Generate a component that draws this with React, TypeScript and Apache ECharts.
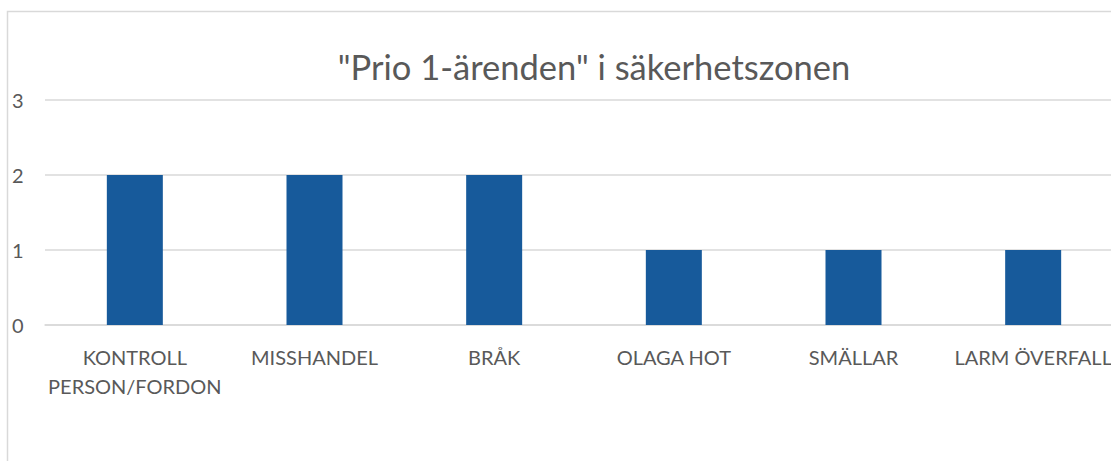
import React, { useEffect, useRef } from "react";
import * as echarts from "echarts";

const titleText = '"Prio 1-ärenden" i säkerhetszonen';
const categories = ["KONTROLL PERSON/FORDON", "MISSHANDEL", "BRÅK", "OLAGA HOT", "SMÄLLAR", "LARM ÖVERFALL"];
const values = [2, 2, 2, 1, 1, 1];
const yTicks = [0, 1, 2, 3];

export default function App() {
  const ref = useRef<HTMLDivElement>(null);
  useEffect(() => {
    if (!ref.current) return;
    const chart = echarts.init(ref.current, null, { renderer: "svg" });
    const font = "Lato";
    chart.setOption({
      animation: false,
      backgroundColor: "#ffffff",
      title: {
        text: titleText,
        left: 589,
        top: 44,
        textAlign: "center",
        textStyle: { fontFamily: font, fontSize: 34.5, fontWeight: "normal", color: "#595959" },
      },
      graphic: [
        {
          type: "rect",
          shape: { x: 7.5, y: 11.5, width: 1200, height: 500 },
          style: { fill: "none", stroke: "#D9D9D9", lineWidth: 1.5 },
          silent: true,
        },
      ],
      grid: { left: 45, top: 100, width: 1078, height: 225, containLabel: false },
      xAxis: {
        type: "category",
        data: categories,
        axisLine: { show: true, lineStyle: { color: "#D9D9D9", width: 1.5 } },
        axisTick: { show: false },
        axisLabel: {
          interval: 0,
          fontFamily: font,
          fontSize: 20,
          color: "#595959",
          margin: 17,
          lineHeight: 29,
          formatter: (v: string) => (v.length > 16 ? v.replace(" ", "\n") : v),
        },
      },
      yAxis: {
        type: "value",
        min: yTicks[0],
        max: yTicks[yTicks.length - 1],
        interval: 1,
        axisLine: { show: false },
        axisTick: { show: false },
        splitLine: { lineStyle: { color: "#D9D9D9", width: 1.5 } },
        axisLabel: {
          fontFamily: font,
          fontSize: 20,
          color: "#595959",
          align: "left",
          margin: 33,
        },
      },
      series: [
        {
          type: "bar",
          data: values,
          barWidth: 56,
          itemStyle: { color: "#175A9B" },
        },
      ],
    });
    return () => chart.dispose();
  }, []);
  return (
    <div style={{ position: "absolute", left: 0, top: 0, width: 1111, height: 461, overflow: "hidden" }}>
      <div ref={ref} style={{ width: 1140, height: 461 }} />
    </div>
  );
}
